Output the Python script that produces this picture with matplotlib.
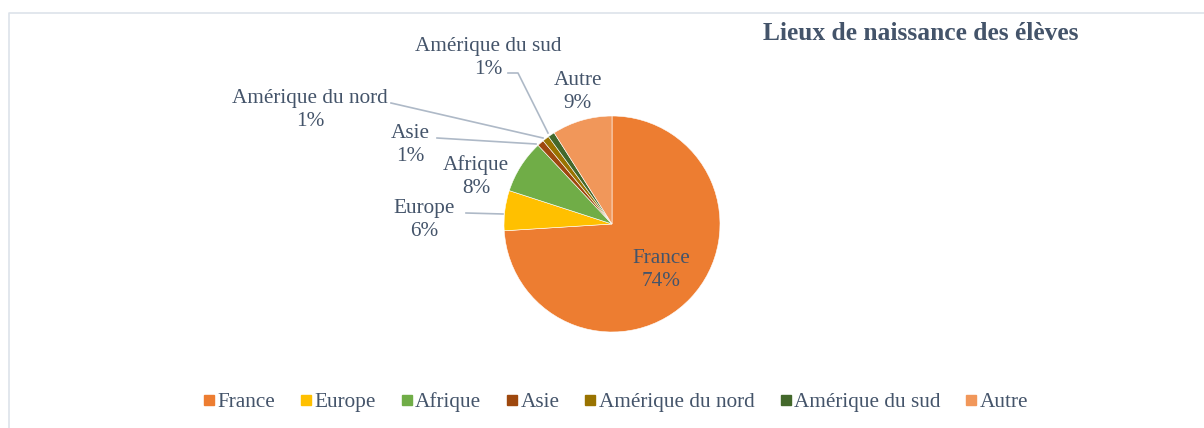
import matplotlib.pyplot as plt
from matplotlib.lines import Line2D

plt.rcParams['font.family'] = ['Liberation Serif', 'DejaVu Serif']

labels = ['France', 'Europe', 'Afrique', 'Asie', 'Amérique du nord',
          'Amérique du sud', 'Autre']
values = [74, 6, 8, 1, 1, 1, 9]
colors = ['#ED7D31', '#FFC000', '#70AD47', '#9E480E', '#997300',
          '#43682B', '#F1975A']

W, H = 1204, 428
TXT = '#44546A'
LINE = '#AEB9C7'


def px(x, y):
    # pixel position (top-left origin) -> axes data coords
    return x, H - y


fig = plt.figure(figsize=(W / 100, H / 100), dpi=100)
ax = fig.add_axes([0, 0, 1, 1])
ax.set_xlim(0, W)
ax.set_ylim(0, H)
ax.axis('off')

# chart frame
ax.plot([8.5, 8.5, W], [0, H - 12.5, H - 12.5], color='#DDE3EA', lw=1.2)

cx, cy = px(612, 224)
ax.pie(values, colors=colors, startangle=90, counterclock=False,
       center=(cx, cy), radius=108,
       wedgeprops=dict(edgecolor='white', linewidth=0.4))
ax.set_xlim(0, W)
ax.set_ylim(0, H)
ax.set_aspect('equal')

# data labels (pixel positions of the text centres)
label_pos = [(661, 270), (424, 220), (476, 177), (410, 145),
             (310, 110), (488, 58), (578, 92)]
for name, v, (x, y) in zip(labels, values, label_pos):
    ax.text(*px(x, y), f'{name}\n{v}%', ha='center', va='center',
            fontsize=15.3, color=TXT, linespacing=1.28)

# leader lines
leaders = [
    [(466, 213), (503, 214)],              # Europe
    [(437, 138), (536, 144)],              # Asie
    [(391, 103), (543, 138)],              # Amérique du nord
    [(508, 73), (518, 73), (548, 133)],    # Amérique du sud
]
for pts in leaders:
    xs, ys = zip(*[px(x, y) for x, y in pts])
    ax.plot(xs, ys, color=LINE, lw=1.2)

ax.text(*px(921, 33), 'Lieux de naissance des élèves', ha='center',
        va='center', fontsize=18.4, fontweight='bold', color=TXT)

handles = [Line2D([], [], marker='s', ls='', color=c, markersize=6.5)
           for c in colors]
fig.legend(handles, labels, loc='center', bbox_to_anchor=(616 / W, 1 - 402 / H),
           ncol=7, frameon=False, fontsize=15.3, handlelength=0.5,
           handletextpad=0.15, columnspacing=1.2, labelcolor=TXT)

fig.savefig('out.png', dpi=100)
